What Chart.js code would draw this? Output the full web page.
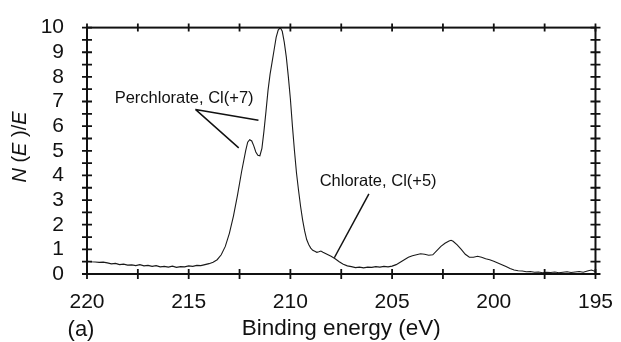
<!DOCTYPE html>
<html>
<head>
<meta charset="utf-8">
<script src="https://cdn.jsdelivr.net/npm/chart.js@4/dist/chart.umd.min.js"></script>
<style>
  html, body { margin: 0; padding: 0; background: #fff; }
  #wrap { width: 621px; height: 342px; position: relative; }
</style>
</head>
<body>
<div id="wrap"><canvas id="xps-chart"></canvas></div>
<script>
// Cl 2p region, N(E)/E vs binding energy

const energy = [
    220.0, 219.8, 219.6, 219.4, 219.2, 219.0, 218.8, 218.6, 218.4, 218.2,
    218.0, 217.8, 217.6, 217.4, 217.2, 217.0, 216.8, 216.6, 216.4, 216.2,
    216.0, 215.8, 215.6, 215.4, 215.2, 215.0, 214.8, 214.6, 214.4, 214.2,
    214.0, 213.8, 213.6, 213.4, 213.2, 213.0, 212.8, 212.6, 212.4, 212.2,
    212.1, 212.0, 211.9, 211.8, 211.7, 211.6, 211.5, 211.4, 211.3, 211.2,
    211.1, 211.0, 210.9, 210.8, 210.7, 210.6, 210.5, 210.4, 210.3, 210.2,
    210.1, 210.0, 209.9, 209.8, 209.7, 209.6, 209.5, 209.4, 209.3, 209.2,
    209.1, 209.0, 208.9, 208.8, 208.7, 208.6, 208.5, 208.4, 208.3, 208.2,
    208.0, 207.8, 207.6, 207.4, 207.2, 207.0, 206.8, 206.6, 206.4, 206.2,
    206.0, 205.8, 205.6, 205.4, 205.2, 205.0, 204.8, 204.6, 204.4, 204.2,
    204.0, 203.8, 203.6, 203.4, 203.2, 203.0, 202.8, 202.6, 202.4, 202.2,
    202.1, 202.0, 201.8, 201.6, 201.4, 201.2, 201.0, 200.8, 200.6, 200.4,
    200.2, 200.0, 199.8, 199.6, 199.4, 199.2, 199.0, 198.8, 198.6, 198.4,
    198.2, 198.0, 197.8, 197.6, 197.4, 197.2, 197.0, 196.8, 196.6, 196.4,
    196.2, 196.0, 195.8, 195.6, 195.4, 195.2, 195.0
];

const intensity = [
    0.52, 0.50, 0.49, 0.47, 0.48, 0.45, 0.41, 0.43, 0.38, 0.40,
    0.36, 0.37, 0.34, 0.38, 0.33, 0.35, 0.31, 0.34, 0.29, 0.31,
    0.28, 0.32, 0.27, 0.30, 0.29, 0.33, 0.31, 0.35, 0.34, 0.38,
    0.42, 0.48, 0.58, 0.78, 1.12, 1.65, 2.35, 3.20, 4.15, 5.00,
    5.35, 5.45, 5.40, 5.20, 4.95, 4.82, 4.80, 5.10, 5.80, 6.60,
    7.45, 8.10, 8.60, 9.10, 9.60, 9.90, 10.0, 9.85, 9.40, 8.80,
    8.00, 7.10, 6.00, 5.00, 4.10, 3.40, 2.75, 2.20, 1.75, 1.40,
    1.20, 1.05, 0.96, 0.92, 0.88, 0.90, 0.93, 0.88, 0.84, 0.80,
    0.72, 0.62, 0.50, 0.40, 0.33, 0.30, 0.26, 0.28, 0.25, 0.28,
    0.27, 0.30, 0.28, 0.31, 0.29, 0.32, 0.38, 0.48, 0.58, 0.68,
    0.74, 0.78, 0.82, 0.80, 0.76, 0.78, 0.95, 1.12, 1.25, 1.34,
    1.37, 1.33, 1.18, 1.00, 0.80, 0.68, 0.68, 0.72, 0.68, 0.62,
    0.58, 0.52, 0.45, 0.38, 0.30, 0.22, 0.16, 0.13, 0.12, 0.09,
    0.10, 0.07, 0.08, 0.05, 0.07, 0.06, 0.08, 0.05, 0.07, 0.09,
    0.06, 0.08, 0.10, 0.07, 0.12, 0.16, 0.10
];

const xTicks = [220, 215, 210, 205, 200, 195];
const yTicks = [0, 1, 2, 3, 4, 5, 6, 7, 8, 9, 10];

// labels with leader lines, in data units: text anchor, then line segments
const annotations = [
    { text: 'Perchlorate, Cl(+7)', at: [218.64, 7.12],
      lines: [[214.67, 6.68, 211.57, 6.24], [214.67, 6.68, 212.54, 5.12]] },
    { text: 'Chlorate, Cl(+5)', at: [208.56, 3.77],
      lines: [[206.14, 3.25, 207.84, 0.66]] }
];

const INK = '#111';
const FONT = '"Liberation Sans", Arial, sans-serif';

// box frame with ticks crossing every side, plus labels
const framePlugin = {
    id: 'frame',
    afterDatasetsDraw(chart) {
        const { ctx, chartArea: a, scales } = chart;
        const xs = scales.x, ys = scales.y;
        ctx.save();
        ctx.strokeStyle = INK;
        ctx.lineWidth = 2;
        ctx.strokeRect(a.left, a.top, a.right - a.left, a.bottom - a.top);

        ctx.lineWidth = 1.8;
        ctx.beginPath();
        for (let v = 195; v <= 220; v += 2.5) {
            const px = xs.getPixelForValue(v);
            ctx.moveTo(px, a.bottom - 5); ctx.lineTo(px, a.bottom + 5);
            ctx.moveTo(px, a.top - 4); ctx.lineTo(px, a.top + 4);
        }
        for (let v = 0; v <= 10; v += 0.5) {
            const py = ys.getPixelForValue(v);
            ctx.moveTo(a.left - 5, py); ctx.lineTo(a.left + 5, py);
            ctx.moveTo(a.right - 5, py); ctx.lineTo(a.right + 5, py);
        }
        ctx.stroke();

        // annotations
        ctx.fillStyle = INK;
        ctx.font = '16.5px ' + FONT;
        ctx.textBaseline = 'middle';
        ctx.textAlign = 'left';
        ctx.lineWidth = 1.5;
        annotations.forEach(an => {
            ctx.fillText(an.text, xs.getPixelForValue(an.at[0]), ys.getPixelForValue(an.at[1]));
            ctx.beginPath();
            an.lines.forEach(l => {
                ctx.moveTo(xs.getPixelForValue(l[0]), ys.getPixelForValue(l[1]));
                ctx.lineTo(xs.getPixelForValue(l[2]), ys.getPixelForValue(l[3]));
            });
            ctx.stroke();
        });

        // panel tag
        ctx.font = '22px ' + FONT;
        ctx.textAlign = 'center';
        ctx.fillText('(a)', a.left - 6, 330);

        // y title: N (E )/E, italic N and E
        ctx.translate(20, 147);
        ctx.rotate(-Math.PI / 2);
        const parts = [['N', true], [' (', false], ['E', true], [' )/', false], ['E', true]];
        const fontFor = it => (it ? 'italic ' : '') + '20px ' + FONT;
        let total = 0;
        parts.forEach(p => { ctx.font = fontFor(p[1]); total += ctx.measureText(p[0]).width; });
        let x = -total / 2;
        ctx.textAlign = 'left';
        parts.forEach(p => {
            ctx.font = fontFor(p[1]);
            ctx.fillText(p[0], x, 0);
            x += ctx.measureText(p[0]).width;
        });
        ctx.restore();
    }
};

new Chart(document.getElementById('xps-chart'), {
    type: 'line',
    data: {
        datasets: [{
            data: energy.map((e, i) => ({ x: e, y: intensity[i] })),
            borderColor: '#1a1a1a',
            borderWidth: 1.1,
            pointRadius: 0,
            tension: 0,
            fill: false
        }]
    },
    options: {
        responsive: true,
        maintainAspectRatio: false,
        animation: false,
        layout: { padding: { top: 23, right: 18, left: 0, bottom: 0 } },
        plugins: {
            legend: { display: false },
            tooltip: { enabled: false }
        },
        scales: {
            x: {
                type: 'linear',
                reverse: true,
                min: 195,
                max: 220,
                afterBuildTicks: s => { s.ticks = xTicks.map(v => ({ value: v })); },
                afterFit: s => { s.height = 68; },
                grid: { display: false },
                border: { display: false },
                ticks: {
                    color: INK,
                    padding: 8,
                    maxRotation: 0,
                    autoSkip: false,
                    font: { family: FONT, size: 21 }
                },
                title: {
                    display: true,
                    text: 'Binding energy (eV)',
                    color: INK,
                    padding: { top: 0, bottom: 0 },
                    font: { family: FONT, size: 22.5 }
                }
            },
            y: {
                min: 0,
                max: 10,
                afterBuildTicks: s => { s.ticks = yTicks.map(v => ({ value: v })); },
                afterFit: s => { s.width = 87; },
                grid: { display: false },
                border: { display: false },
                ticks: {
                    color: INK,
                    padding: 15,
                    autoSkip: false,
                    font: { family: FONT, size: 21 }
                }
            }
        }
    },
    plugins: [framePlugin]
});
</script>
</body>
</html>
